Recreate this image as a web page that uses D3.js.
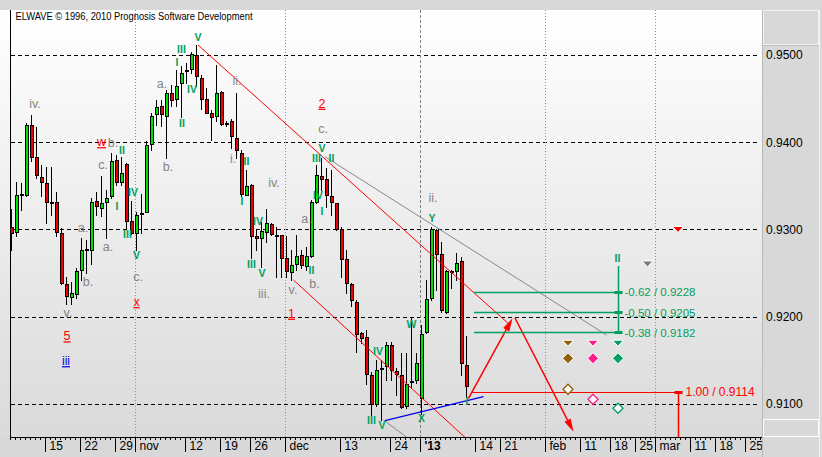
<!DOCTYPE html>
<html>
<head>
<meta charset="utf-8">
<script src="https://d3js.org/d3.v7.min.js"></script>
<style>
html,body{margin:0;padding:0;background:#d8d8d8;}
svg{display:block;}
text{font-family:"Liberation Sans",Arial,sans-serif;}
</style>
</head>
<body>
<svg id="chart" width="822" height="457"></svg>
<script>
// ---------------- DATA ----------------
const opens  = [0.9303,0.9297,0.9341,0.9340,0.9420,0.9383,0.9360,0.9353,0.9332,0.9331,
                0.9296,0.9237,0.9223,0.9226,0.9254,0.9278,0.9277,0.9333,0.9325,0.9332,
                0.9338,0.9380,0.9354,0.9375,0.9310,0.9296,0.9319,0.9320,0.9398,0.9432,
                0.9441,0.9430,0.9457,0.9449,0.9468,0.9482,0.9484,0.9500,0.9474,0.9450,
                0.9433,0.9430,0.9458,0.9422,0.9424,0.9405,0.9388,0.9340,0.9351,0.9292,
                0.9290,0.9297,0.9306,0.9294,0.9294,0.9267,0.9251,0.9261,0.9271,0.9258,
                0.9270,0.9332,0.9361,0.9358,0.9338,0.9330,0.9301,0.9266,0.9237,0.9217,
                0.9181,0.9177,0.9133,0.9100,0.9141,0.9144,0.9168,0.9138,0.9133,0.9098,
                0.9126,0.9128,0.9107,0.9182,0.9221,0.9299,0.9272,0.9206,0.9253,0.9253,
                0.9264,0.9145];
const highs  = [0.9323,0.9355,0.9353,0.9422,0.9431,0.9418,0.9374,0.9372,0.9372,0.9343,
                0.9302,0.9246,0.9240,0.9256,0.9290,0.9288,0.9336,0.9343,0.9361,0.9345,
                0.9388,0.9385,0.9383,0.9376,0.9333,0.9320,0.9341,0.9401,0.9434,0.9448,
                0.9448,0.9460,0.9466,0.9483,0.9487,0.9491,0.9504,0.9511,0.9477,0.9462,
                0.9437,0.9489,0.9459,0.9424,0.9427,0.9456,0.9391,0.9368,0.9352,0.9299,
                0.9309,0.9324,0.9308,0.9303,0.9294,0.9292,0.9277,0.9294,0.9277,0.9280,
                0.9334,0.9374,0.9382,0.9370,0.9368,0.9330,0.9303,0.9277,0.9239,0.9219,
                0.9183,0.9185,0.9137,0.9150,0.9150,0.9171,0.9171,0.9141,0.9158,0.9158,
                0.9198,0.9158,0.9190,0.9242,0.9303,0.9301,0.9286,0.9254,0.9254,0.9273,
                0.9268,0.9178];
const lows   = [0.9277,0.9292,0.9322,0.9338,0.9378,0.9359,0.9338,0.9307,0.9317,0.9292,
                0.9238,0.9215,0.9215,0.9221,0.9242,0.9250,0.9261,0.9317,0.9315,0.9290,
                0.9336,0.9351,0.9351,0.9301,0.9295,0.9277,0.9296,0.9320,0.9391,0.9420,
                0.9419,0.9382,0.9442,0.9442,0.9429,0.9468,0.9479,0.9464,0.9438,0.9433,
                0.9403,0.9424,0.9420,0.9419,0.9393,0.9382,0.9338,0.9339,0.9267,0.9277,
                0.9257,0.9286,0.9294,0.9246,0.9246,0.9246,0.9242,0.9254,0.9256,0.9254,
                0.9269,0.9330,0.9345,0.9326,0.9317,0.9299,0.9245,0.9227,0.9212,0.9160,
                0.9170,0.9123,0.9087,0.9098,0.9082,0.9128,0.9128,0.9110,0.9095,0.9095,
                0.9119,0.9124,0.9089,0.9181,0.9219,0.9231,0.9206,0.9204,0.9233,0.9242,
                0.9133,0.9108];
const closes = [0.9296,0.9340,0.9339,0.9420,0.9383,0.9362,0.9355,0.9332,0.9331,0.9297,
                0.9239,0.9224,0.9227,0.9252,0.9277,0.9277,0.9331,0.9327,0.9330,0.9336,
                0.9379,0.9355,0.9365,0.9310,0.9296,0.9317,0.9318,0.9397,0.9430,0.9440,
                0.9432,0.9456,0.9448,0.9465,0.9479,0.9483,0.9501,0.9476,0.9450,0.9434,
                0.9429,0.9456,0.9421,0.9421,0.9407,0.9391,0.9341,0.9350,0.9292,0.9290,
                0.9298,0.9308,0.9295,0.9293,0.9267,0.9252,0.9259,0.9270,0.9259,0.9270,
                0.9332,0.9362,0.9358,0.9340,0.9332,0.9301,0.9266,0.9239,0.9219,0.9180,
                0.9176,0.9134,0.9100,0.9139,0.9140,0.9168,0.9139,0.9134,0.9097,0.9123,
                0.9125,0.9147,0.9180,0.9220,0.9300,0.9272,0.9208,0.9252,0.9252,0.9262,
                0.9147,0.9121];

const priceTicks = [0.95, 0.94, 0.93, 0.92, 0.91];
const dateTickIndex  = [7,14,21,25,35,42,48,55,66,76,82,93,98,107,114,120,125,129,136,141,147];
const dateTickLabels = ["15","22","29","nov","12","19","26","dec","13","24","'13","14","21","feb","11","18","25","mar","11","18","25"];
const monthLabels = ["nov","dec","'13","feb","mar"];

const waveGreen = [
  ["V",37.3,0.95206],["III",34,0.95065],["I",33.1,0.94912],["IV",36.1,0.94607],["II",34.1,0.94217],
  ["II",22.1,0.93911],["I",21.1,0.93269],["IV",24.3,0.93422],["III",23.2,0.92945],["V",25,0.92708],
  ["I",46.1,0.93319],["II",47,0.93777],["IV",49.3,0.93097],["III",48,0.92601],["V",50.1,0.92498],
  ["V",62.1,0.93931],["III",61,0.93816],["II",64,0.93816],["IV",61.3,0.93395],["I",62.1,0.93212],["II",60,0.92530],
  ["Y",84.1,0.93128],["IV",73.3,0.9160],["W",80,0.91917],["III",72,0.90809],["V",74.1,0.90759],["X",82,0.90836],["I",91.1,0.91026],
  ["II",121.2,0.9267]
];
const waveGray = [
  ["a.",30.1,0.94668],["ii.",45.1,0.94705],["iv.",4.7,0.94446],["b.",20.3,0.93995],["c.",18.3,0.93739],
  ["a.",14.3,0.93025],["a.",19.3,0.92803],["b.",15.3,0.92402],["b.",31.3,0.9372],["c.",25.3,0.92459],
  ["i.",44.3,0.93816],["iii.",50.5,0.92261],["iv.",52.5,0.93541],["c.",62.3,0.94152],["a.",59,0.9312],
  ["b.",60.6,0.92385],["v.",56.3,0.92307],["ii.",84.3,0.93364],["v.",11.3,0.92046]
];
const waveRed  = [["w",18,0.94006],["x",25,0.92172],["2",62.1,0.94446],["1",56,0.9204],["5",11.1,0.9178]];
const waveBlue = [["iii",10.9,0.91493]];

const channelUpper = [[37.3,0.95115],[99.5,0.91915]];
const channelLower = [[56.4,0.92421],[93.5,0.90470]];
const grayTrend    = [[62.7,0.93834],[119,0.91791]];
const graySegment  = [[74.4,0.90817],[82.5,0.90470]];
const blueTrend    = [[74.7,0.90809],[94.4,0.91084]];
const arrowUp      = [[91.4,0.91065],[100.2,0.91982]];
const arrowDown    = [[100.7,0.91986],[112.4,0.90683]];

const fibRatios = ["-0.62","-0.50","-0.38"];
const fibPrices = [0.9228, 0.9205, 0.9182];
const fibSpan   = [92.5, 121.3];
const fibTop    = 0.92582;
const targetRatio = "1.00", targetPrice = 0.9114, targetSpan = [92, 133.3];

const downTriangles = [[133.3,0.9300,"red"],[127.2,0.92605,"gray"],[111.3,0.91696,"brown"],[116.3,0.91696,"pink"],[121.3,0.91696,"green"]];
const filledDiamonds = [[111.3,0.91524,"brown"],[116.3,0.91524,"pink"],[121.3,0.91524,"green"]];
const hollowDiamonds = [[111.3,0.91169,"brown"],[116.3,0.91054,"pink"],[121.3,0.90951,"green"]];

// ---------------- SETUP ----------------
const col = {up:"#00e000", down:"#ee0000", wave:"#00a060", gray:"#848484",
             red:"#ff0000", blue:"#0000ee", brown:"#946008", pink:"#ff1a8c", green:"#00a060", grayM:"#7c7c7c"};
const L = 10, R = 762, T = 10, B = 437;
const x = d3.scaleLinear().domain([0, 1]).range([11.5, 16.5]);
const xTick = d3.scaleLinear().domain([0, 1]).range([10, 15]);
const y = d3.scaleLinear().domain([0.91, 0.95]).range([404, 55]);

const svg = d3.select("#chart");
const defs = svg.append("defs");
const grad = defs.append("linearGradient").attr("id","bg").attr("x1",0).attr("y1",0).attr("x2",0).attr("y2",1);
grad.append("stop").attr("offset","0%").attr("stop-color","#ffffff");
grad.append("stop").attr("offset","100%").attr("stop-color","#dadada");
defs.append("clipPath").attr("id","clip").append("rect").attr("x",L+1).attr("y",T).attr("width",R-L-1).attr("height",B-T);

svg.append("rect").attr("width",822).attr("height",457).attr("fill","#d8d8d8");
svg.append("rect").attr("x",0).attr("y",T).attr("width",R).attr("height",B-T).attr("fill","url(#bg)");

// horizontal gridlines
svg.append("g").selectAll("line").data(priceTicks).join("line")
  .attr("x1",L+1).attr("x2",R-3)
  .attr("y1",d=>Math.round(y(d))+0.5).attr("y2",d=>Math.round(y(d))+0.5)
  .attr("stroke","#000").attr("stroke-dasharray","4,3");

// month separators
const months = dateTickIndex.map((d,i)=>({i:d, lab:dateTickLabels[i]})).filter(d=>monthLabels.includes(d.lab));
svg.append("g").selectAll("line").data(months).join("line")
  .attr("x1",d=>xTick(d.i)+0.5).attr("x2",d=>xTick(d.i)+0.5).attr("y1",T).attr("y2",B)
  .attr("stroke",d=>d.lab==="'13"?"#808080":"#909090")
  .attr("stroke-dasharray",d=>d.lab==="'13"?"3,2":"1,2");

// candles
const idx = d3.range(opens.length);
const gc = svg.append("g");
gc.selectAll("line").data(idx).join("line")
  .attr("x1",i=>x(i)).attr("x2",i=>x(i))
  .attr("y1",i=>Math.round(y(highs[i]))).attr("y2",i=>Math.round(y(lows[i]))+1)
  .attr("stroke","#000");
gc.selectAll("rect").data(idx).join("rect")
  .attr("x",i=>x(i)-1).attr("width",3)
  .attr("y",i=>Math.round(y(Math.max(opens[i],closes[i])))+0.5)
  .attr("height",i=>Math.max(1, Math.round(y(Math.min(opens[i],closes[i])))-Math.round(y(Math.max(opens[i],closes[i])))))
  .attr("fill",i=>closes[i]>=opens[i]?col.up:col.down)
  .attr("stroke","#000");

// trend lines
const gl = svg.append("g").attr("clip-path","url(#clip)");
function seg(pts, color, w){
  gl.append("line").attr("x1",x(pts[0][0])).attr("y1",y(pts[0][1]))
    .attr("x2",x(pts[1][0])).attr("y2",y(pts[1][1])).attr("stroke",color).attr("stroke-width",w);
}
seg(channelUpper, col.red, 1);
seg(channelLower, col.red, 1);
seg(grayTrend, "#888", 1);
seg(graySegment, "#888", 1);
seg(blueTrend, col.blue, 1.3);
function arrow(pts, color){
  const a=[x(pts[0][0]),y(pts[0][1])], b=[x(pts[1][0]),y(pts[1][1])];
  const ang=Math.atan2(b[1]-a[1],b[0]-a[0]), len=13, hw=3.5;
  const bx=b[0]-len*Math.cos(ang), by=b[1]-len*Math.sin(ang);
  const px=-Math.sin(ang)*hw, py=Math.cos(ang)*hw;
  gl.append("line").attr("x1",a[0]).attr("y1",a[1]).attr("x2",bx).attr("y2",by)
    .attr("stroke",color).attr("stroke-width",1.5);
  gl.append("path").attr("d",`M${b[0]},${b[1]}L${bx+px},${by+py}L${bx-px},${by-py}Z`).attr("fill",color);
}
arrow(arrowUp, col.red);
arrow(arrowDown, col.red);

// fibonacci targets
const gf = svg.append("g");
const fx1 = x(fibSpan[0]), fx2 = Math.round(x(fibSpan[1]))+0.5;
gf.selectAll("line.h").data(fibPrices).join("line")
  .attr("x1",fx1).attr("x2",fx2).attr("y1",d=>Math.round(y(d))+0.5).attr("y2",d=>Math.round(y(d))+0.5)
  .attr("stroke",col.green).attr("stroke-width",1.3);
gf.append("line").attr("x1",fx2).attr("x2",fx2).attr("y1",y(fibTop)).attr("y2",Math.round(y(fibPrices[2]))+0.5)
  .attr("stroke",col.green).attr("stroke-width",1.5);
gf.selectAll("rect").data(fibPrices).join("rect")
  .attr("x",fx2-4).attr("width",8).attr("y",d=>Math.round(y(d))-1).attr("height",3).attr("fill",col.green);
gf.selectAll("text").data(fibPrices).join("text")
  .attr("x",fx2+6).attr("y",d=>y(d)).attr("dy","0.36em").attr("font-size",11.5).attr("fill",col.green)
  .text((d,i)=>`${fibRatios[i]} / ${d.toFixed(4)}`);

const tx1 = x(targetSpan[0]), tx2 = Math.round(x(targetSpan[1]))+0.5, ty = Math.round(y(targetPrice))+0.5;
gf.append("line").attr("x1",tx1).attr("x2",tx2).attr("y1",ty).attr("y2",ty).attr("stroke",col.red);
gf.append("line").attr("x1",tx2).attr("x2",tx2).attr("y1",ty).attr("y2",B).attr("stroke",col.red).attr("stroke-width",1.5);
gf.append("rect").attr("x",tx2-4).attr("width",8).attr("y",ty-1.5).attr("height",3).attr("fill",col.red);
gf.append("text").attr("x",tx2+7).attr("y",y(targetPrice)).attr("dy","0.36em").attr("font-size",12).attr("fill",col.red)
  .text(`${targetRatio} / ${targetPrice.toFixed(4)}`);

// markers
const cmap = {red:col.red, gray:col.grayM, brown:col.brown, pink:col.pink, green:col.green};
const gm = svg.append("g");
gm.selectAll("path.t").data(downTriangles).join("path")
  .attr("transform",d=>`translate(${x(d[0])},${y(d[1])})`)
  .attr("d","M-5.5,-3L5.5,-3L0,3Z").attr("fill",d=>cmap[d[2]]).attr("stroke","#fff").attr("stroke-width",1);
gm.selectAll("path.d").data(filledDiamonds).join("path")
  .attr("transform",d=>`translate(${x(d[0])},${y(d[1])})`)
  .attr("d","M0,-5.5L5.5,0L0,5.5L-5.5,0Z").attr("fill",d=>cmap[d[2]]).attr("stroke","#fff");
gm.selectAll("path.h").data(hollowDiamonds).join("path")
  .attr("transform",d=>`translate(${x(d[0])},${y(d[1])})`)
  .attr("d","M0,-5L5,0L0,5L-5,0Z").attr("fill","#fff").attr("stroke",d=>cmap[d[2]]).attr("stroke-width",1.3);

// wave labels
const gw = svg.append("g");
gw.selectAll("text.a").data(waveGray).join("text")
  .attr("x",d=>x(d[1])).attr("y",d=>y(d[2])).attr("dy","0.35em").attr("text-anchor","middle")
  .attr("font-size",12.5).attr("fill",col.gray).text(d=>d[0]);
gw.selectAll("text.g").data(waveGreen).join("text")
  .attr("x",d=>x(d[1])).attr("y",d=>y(d[2])).attr("dy","0.35em").attr("text-anchor","middle")
  .attr("font-family","'Liberation Serif',serif").attr("font-weight","bold").attr("font-size",10.5)
  .attr("fill",col.wave).text(d=>d[0]);
gw.selectAll("text.r").data(waveRed).join("text")
  .attr("x",d=>x(d[1])).attr("y",d=>y(d[2])).attr("dy","0.35em").attr("text-anchor","middle")
  .attr("font-size",12.5).attr("fill",col.red).attr("text-decoration","underline").text(d=>d[0]);
gw.selectAll("text.b").data(waveBlue).join("text")
  .attr("x",d=>x(d[1])).attr("y",d=>y(d[2])).attr("dy","0.35em").attr("text-anchor","middle")
  .attr("font-size",12).attr("fill",col.blue).attr("text-decoration","underline").text(d=>d[0]);

// axes
const minorAxis = d3.axisBottom(xTick).tickValues(d3.range(0,151)).tickSize(3).tickFormat("");
const gMin = svg.append("g").attr("transform",`translate(0,${B})`).call(minorAxis);
gMin.select(".domain").remove();
gMin.selectAll("line").attr("stroke","#000");

const majorAxis = d3.axisBottom(xTick).tickValues(dateTickIndex).tickSize(15)
  .tickFormat((d,i)=>dateTickLabels[i]);
const gMaj = svg.append("g").attr("transform",`translate(0,${B})`).call(majorAxis);
gMaj.select(".domain").remove();
gMaj.selectAll("line").attr("stroke","#000");
gMaj.selectAll("text").attr("text-anchor","start").attr("x",4).attr("y",13.3).attr("dy",0)
  .attr("font-size",12).attr("font-family","'Liberation Sans',Arial,sans-serif").attr("fill","#000")
  .attr("font-weight",(d,i)=>dateTickLabels[i]==="'13"?"bold":"normal");

svg.append("line").attr("x1",L).attr("x2",R).attr("y1",B+0.5).attr("y2",B+0.5).attr("stroke","#000");
svg.append("line").attr("x1",L+0.5).attr("x2",L+0.5).attr("y1",T).attr("y2",B+1).attr("stroke","#000");

// right panel
svg.append("rect").attr("x",R).attr("y",T).attr("width",822-R).attr("height",457-T).attr("fill","#d8d8d8");
svg.append("line").attr("x1",R+0.5).attr("x2",R+0.5).attr("y1",T).attr("y2",457).attr("stroke","#b8b8b8");
svg.append("rect").attr("x",R+1.5).attr("y",T+0.5).attr("width",55).attr("height",34).attr("fill","none").attr("stroke","#f2f2f2");
svg.append("line").attr("x1",R+1).attr("x2",R+57).attr("y1",T+35.5).attr("y2",T+35.5).attr("stroke","#bdbdbd");
svg.append("rect").attr("x",R+1.5).attr("y",419.5).attr("width",55).attr("height",17).attr("fill","none").attr("stroke","#ffffff");
svg.append("line").attr("x1",819.5).attr("x2",819.5).attr("y1",T).attr("y2",457).attr("stroke","#f2f2f2");

const yAxis = d3.axisRight(y).tickValues(priceTicks).tickSize(0).tickPadding(4).tickFormat(d3.format(".4f"));
const gy = svg.append("g").attr("transform",`translate(${R},0)`).call(yAxis);
gy.select(".domain").remove();
gy.selectAll("text").attr("font-size",12).attr("font-family","'Liberation Sans',Arial,sans-serif").attr("fill","#000");

// title
svg.append("text").attr("x",15.5).attr("y",20).attr("font-size",11).attr("fill","#000")
  .attr("textLength",237).attr("lengthAdjust","spacingAndGlyphs")
  .text("ELWAVE \u00A9 1996, 2010 Prognosis Software Development");
</script>
</body>
</html>
